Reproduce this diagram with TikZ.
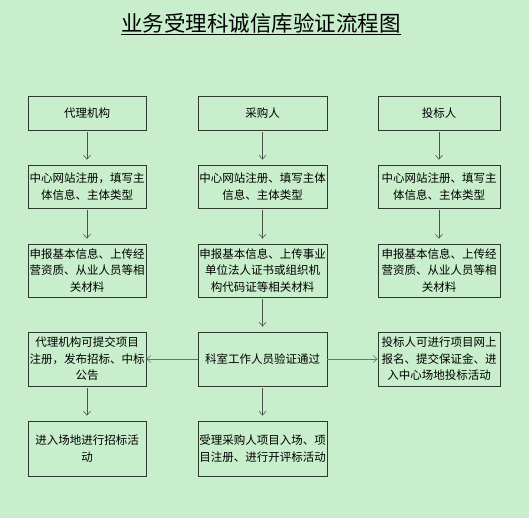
\documentclass[tikz,border=0pt]{standalone}
\usepackage{fontspec}
\setmainfont{Noto Sans CJK SC}
\usepackage{tikz}
\usetikzlibrary{arrows.meta}
\definecolor{bgmint}{HTML}{C8EECC}
\definecolor{frame}{HTML}{2E3A2E}
\definecolor{arrowgray}{HTML}{4A524A}
\definecolor{sidegray}{HTML}{5E7A60}

\begin{document}
\begin{tikzpicture}[
  x=1pt, y=-1pt,
  font=\fontsize{11.5}{16.5}\selectfont,
  box/.style={rectangle, draw=frame, thick, fill=bgmint, inner sep=0pt,
    align=center},
  boxa/.style={box, minimum width=118pt, text width=118pt},
  boxb/.style={box, minimum width=129pt, text width=129pt},
  boxc/.style={box, minimum width=122pt, text width=122pt},
  down/.style={draw=arrowgray, semithick, -{Straight Barb[length=4pt,width=7pt]},
    shorten <=2pt, shorten >=5pt},
  side/.style={draw=sidegray, semithick, -{Straight Barb[length=4pt,width=7pt]}},
]
\fill[bgmint] (0,0) rectangle (529,518);

\node[font=\fontsize{21.5}{26}\selectfont] (title) at (261,24)
  {\underline{业务受理科诚信库验证流程图}};

% agency column
\node[boxa, minimum height=34pt] (agent)  at (87,113)   {代理机构};
\node[boxa, minimum height=43pt] (agreg)  at (87,186.5) {中心网站注册，填写主\\体信息、主体类型};
\node[boxa, minimum height=53pt] (agdoc)  at (87,270.5) {申报基本信息、上传经\\营资质、从业人员等相\\关材料};
\node[boxa, minimum height=54pt] (agproj) at (87,359)   {代理机构可提交项目\\注册，发布招标、中标\\公告};
\node[boxa, minimum height=55pt] (agact)  at (87,448.5) {进入场地进行招标活\\动};

% purchaser column
\node[boxb, minimum height=34pt] (buyer)  at (262.5,113)   {采购人};
\node[boxb, minimum height=43pt] (byreg)  at (262.5,186.5) {中心网站注册、填写主体\\信息、主体类型};
\node[boxb, minimum height=53pt] (bydoc)  at (262.5,270.5) {申报基本信息、上传事业\\单位法人证书或组织机\\构代码证等相关材料};
\node[boxb, minimum height=54pt] (check)  at (262.5,359)   {科室工作人员验证通过};
\node[boxb, minimum height=55pt] (byproj) at (262.5,448.5) {受理采购人项目入场、项\\目注册、进行开评标活动};

% bidder column
\node[boxc, minimum height=34pt] (bidder) at (439,113)   {投标人};
\node[boxc, minimum height=43pt] (bdreg)  at (439,186.5) {中心网站注册、填写主\\体信息、主体类型};
\node[boxc, minimum height=53pt] (bddoc)  at (439,270.5) {申报基本信息、上传经\\营资质、从业人员等相\\关材料};
\node[boxc, minimum height=54pt] (bdproj) at (439,359)   {投标人可进行项目网上\\报名、提交保证金、进\\入中心场地投标活动};

\draw[down] (agent) -- (agreg);
\draw[down] (agreg) -- (agdoc);
\draw[down] (agproj) -- (agact);
\draw[down] (buyer) -- (byreg);
\draw[down] (byreg) -- (bydoc);
\draw[down] (bydoc) -- (check);
\draw[down] (check) -- (byproj);
\draw[down] (bidder) -- (bdreg);
\draw[down] (bdreg) -- (bddoc);
\draw[side] (check) -- (agproj);
\draw[side] (check) -- (bdproj);
\end{tikzpicture}
\end{document}
